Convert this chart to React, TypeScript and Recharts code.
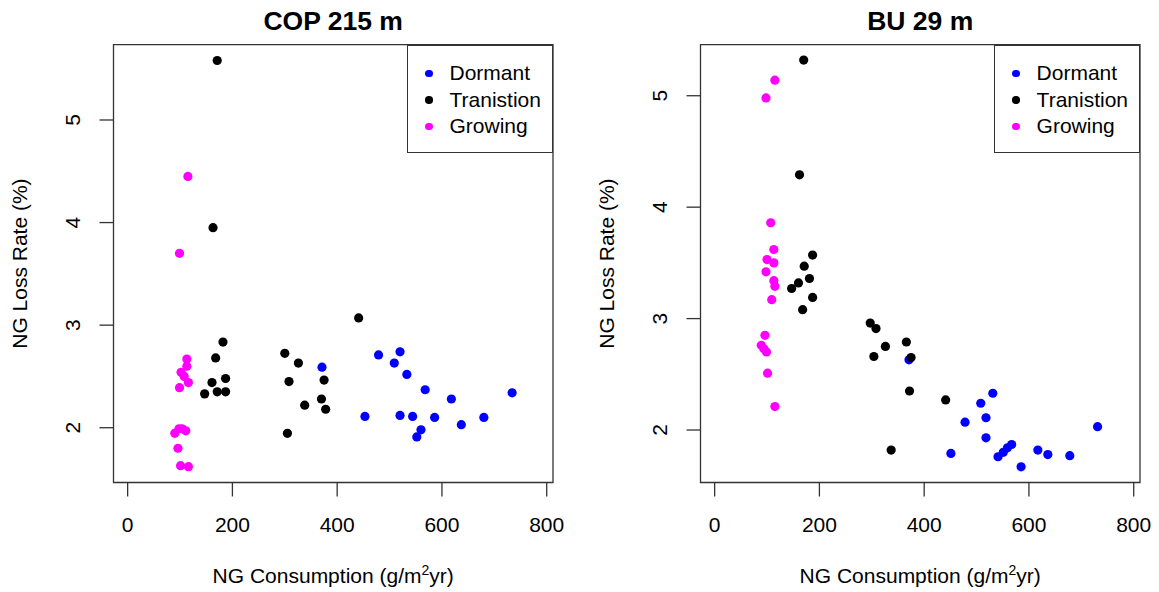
import { Legend, ReferenceArea, Scatter, ScatterChart, XAxis, YAxis } from "recharts";

const seriesNames = ["Dormant", "Tranistion", "Growing"];
const seriesColors = ["#0000ff", "#000000", "#ff00ff"];
const xTicks = [0, 200, 400, 600, 800];
const yTicks = [2, 3, 4, 5];

// COP 215 m  [consumption, loss rate]
const copDormant = [
  [371, 2.59], [479, 2.71], [520, 2.74], [509, 2.63], [533, 2.52], [568, 2.37],
  [618, 2.28], [734, 2.34], [453, 2.11], [520, 2.12], [544, 2.11], [586, 2.1],
  [680, 2.1], [637, 2.03], [560, 1.98], [552, 1.91],
];
const copTransition = [
  [171, 5.58], [163, 3.95], [182, 2.835], [168, 2.68], [161, 2.44], [187, 2.48],
  [147, 2.33], [171, 2.35], [187, 2.35], [300, 2.725], [326, 2.63], [308, 2.45],
  [338, 2.22], [305, 1.945], [441, 3.07], [375, 2.465], [370, 2.28], [378, 2.18],
];
const copGrowing = [
  [115, 4.45], [99, 3.7], [113, 2.67], [113, 2.6], [102, 2.54], [108, 2.5],
  [116, 2.44], [99, 2.39], [98, 1.99], [104, 1.99], [90, 1.945], [111, 1.97],
  [96, 1.8], [101, 1.63], [116, 1.62],
];

// BU 29 m
const buDormant = [
  [371, 2.63], [531, 2.33], [508, 2.24], [518, 2.11], [478, 2.07], [518, 1.93],
  [451, 1.79], [567, 1.87], [559, 1.84], [551, 1.8], [541, 1.76], [617, 1.82],
  [636, 1.78], [678, 1.77], [585, 1.67], [731, 2.03],
];
const buTransition = [
  [170, 5.32], [162, 4.29], [187, 3.57], [171, 3.47], [181, 3.36], [160, 3.32],
  [147, 3.27], [187, 3.19], [168, 3.08], [297, 2.96], [308, 2.91], [326, 2.75],
  [304, 2.66], [366, 2.79], [375, 2.65], [372, 2.35], [441, 2.27], [337, 1.82],
];
const buGrowing = [
  [115, 5.14], [98, 4.98], [107, 3.86], [113, 3.62], [100, 3.53], [113, 3.5],
  [98, 3.42], [113, 3.34], [115, 3.29], [109, 3.17], [96, 2.85], [89, 2.76],
  [94, 2.73], [99, 2.7], [101, 2.51], [115, 2.21],
];

const FONT = "'Liberation Sans', Arial, sans-serif";
const X_DOMAIN: [number, number] = [-27, 812];

const toPoints = (rows: number[][]) => rows.map(([x, y]) => ({ x, y }));

const Dot = (props: any) => <circle cx={props.cx} cy={props.cy} r={4.6} fill={props.fill} />;

const XTick = ({ x, y, payload }: any) => (
  <text x={x} y={y + 35} textAnchor="middle" fontSize={21} fontFamily={FONT} fill="#000">
    {payload.value}
  </text>
);

const YTick = ({ x, y, payload }: any) => (
  <text
    x={x}
    y={y}
    transform={`rotate(-90 ${x} ${y})`}
    textAnchor="middle"
    fontSize={21}
    fontFamily={FONT}
    fill="#000"
  >
    {payload.value}
  </text>
);

const LegendBox = () => (
  <div
    style={{
      boxSizing: "border-box",
      width: 146,
      height: 108,
      border: "1.3px solid #333",
      background: "#fff",
      paddingTop: 14.5,
      fontFamily: FONT,
      fontSize: 21,
      color: "#000",
    }}
  >
    {seriesNames.map((name, i) => (
      <div key={name} style={{ height: 26.5, lineHeight: "26.5px", display: "flex", alignItems: "center" }}>
        <span
          style={{
            display: "inline-block",
            width: 7.5,
            height: 7.5,
            borderRadius: "50%",
            background: seriesColors[i],
            marginLeft: 17,
            marginRight: 17,
          }}
        />
        <span>{name}</span>
      </div>
    ))}
  </div>
);

type PanelProps = {
  title: string;
  left: number;
  yDomain: [number, number];
  series: number[][][];
};

function Panel({ title, left, yDomain, series }: PanelProps) {
  return (
    <div style={{ position: "absolute", left, top: 0, width: 580, height: 592 }}>
      <ScatterChart width={580} height={592} margin={{ top: 44.7, right: 27, bottom: 49.5, left: 53.5 }}>
        <XAxis
          type="number"
          dataKey="x"
          domain={X_DOMAIN}
          ticks={xTicks}
          interval={0}
          allowDataOverflow
          axisLine={false}
          tickSize={14}
          tickMargin={0}
          tickLine={{ stroke: "#333", strokeWidth: 1.3 }}
          tick={<XTick />}
          height={60}
        />
        <YAxis
          type="number"
          dataKey="y"
          domain={yDomain}
          ticks={yTicks}
          interval={0}
          allowDataOverflow
          axisLine={false}
          tickSize={14}
          tickMargin={19}
          tickLine={{ stroke: "#333", strokeWidth: 1.3 }}
          tick={<YTick />}
          width={60}
        />
        <ReferenceArea
          x1={X_DOMAIN[0]}
          x2={X_DOMAIN[1]}
          y1={yDomain[0]}
          y2={yDomain[1]}
          fill="none"
          stroke="#333"
          strokeWidth={1.3}
          ifOverflow="visible"
        />
        {series.map((rows, i) => (
          <Scatter
            key={seriesNames[i]}
            name={seriesNames[i]}
            data={toPoints(rows)}
            fill={seriesColors[i]}
            shape={Dot}
            isAnimationActive={false}
          />
        ))}
        <Legend
          layout="vertical"
          align="center"
          verticalAlign="middle"
          wrapperStyle={{ left: 407, top: 44.7, width: 146, height: 108 }}
          content={() => <LegendBox />}
        />
      </ScatterChart>
      <svg
        width={580}
        height={592}
        style={{ position: "absolute", left: 0, top: 0, pointerEvents: "none" }}
      >
        <text x={333.2} y={29.5} textAnchor="middle" fontSize={26.5} fontWeight="bold" fontFamily={FONT}>
          {title}
        </text>
        <text x={333.2} y={582.6} textAnchor="middle" fontSize={21} fontFamily={FONT}>
          NG Consumption (g/m
          <tspan dy={-8} fontSize={14}>2</tspan>
          <tspan dy={8}>yr)</tspan>
        </text>
        <text
          x={27.5}
          y={263.6}
          transform="rotate(-90 27.5 263.6)"
          textAnchor="middle"
          fontSize={21}
          fontFamily={FONT}
        >
          NG Loss Rate (%)
        </text>
      </svg>
    </div>
  );
}

export default function App() {
  return (
    <div
      style={{
        position: "fixed",
        left: 0,
        top: 0,
        width: 1159,
        height: 592,
        overflow: "hidden",
        background: "#fff",
      }}
    >
      <Panel title="COP 215 m" left={0} yDomain={[1.466, 5.734]} series={[copDormant, copTransition, copGrowing]} />
      <Panel title="BU 29 m" left={587.1} yDomain={[1.529, 5.458]} series={[buDormant, buTransition, buGrowing]} />
    </div>
  );
}
